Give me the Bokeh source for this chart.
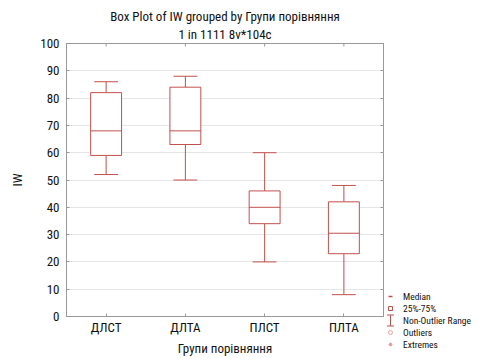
import math
from bokeh.plotting import figure
from bokeh.layouts import row
from bokeh.models import (FactorRange, Legend, LegendItem, LinearAxis,
                          FixedTicker, Title, ColumnDataSource)
from bokeh.transform import dodge
from bokeh.embed import file_html
from bokeh.resources import INLINE

groups = ["ДЛСТ", "ДЛТА", "ПЛСТ", "ПЛТА"]
whisker_low = [52, 50, 20, 8]
q1 = [59, 63, 34, 23]
median = [68, 68, 40, 30.5]
q3 = [82, 84, 46, 42]
whisker_high = [86, 88, 60, 48]
y_ticks = list(range(0, 101, 10))
legend_labels = ["Median", "25%-75%", "Non-Outlier Range", "Outliers", "Extremes"]

FONT = "Liberation Sans Narrow, Arial Narrow, Roboto Condensed, sans-serif"
RED = "#c0504d"
LIGHT = "#e3a3a3"
GRAY = "#999999"
TXT = "#111111"

src = ColumnDataSource(dict(g=groups, lo=whisker_low, q1=q1, med=median, q3=q3, hi=whisker_high))

p = figure(width=385, height=358, x_range=FactorRange(factors=groups, range_padding=0),
           y_range=(0, 100), output_backend="svg", toolbar_location=None,
           min_border_left=66, min_border_right=2, min_border_top=43, min_border_bottom=40)

p.add_layout(Title(text="1 in 1111 8v*104c", align="center", text_font=FONT,
                   text_font_size="13px", text_font_style="normal", text_color=TXT,
                   standoff=3), "above")
p.add_layout(Title(text="Box Plot of IW grouped by Групи порівняння", align="center",
                   text_font=FONT, text_font_size="13px", text_font_style="normal",
                   text_color=TXT, standoff=0), "above")

cap = 0.15
half = 0.195
# whiskers
p.segment(x0="g", y0="hi", x1="g", y1="q3", source=src, line_color=RED)
p.segment(x0="g", y0="lo", x1="g", y1="q1", source=src, line_color=RED)
p.segment(x0=dodge("g", -cap, range=p.x_range), y0="hi",
          x1=dodge("g", cap, range=p.x_range), y1="hi", source=src, line_color=RED)
p.segment(x0=dodge("g", -cap, range=p.x_range), y0="lo",
          x1=dodge("g", cap, range=p.x_range), y1="lo", source=src, line_color=RED)
# boxes
p.vbar(x="g", bottom="q1", top="q3", width=2 * half, source=src,
       fill_color="white", line_color=RED)
p.segment(x0=dodge("g", -half, range=p.x_range), y0="med",
          x1=dodge("g", half, range=p.x_range), y1="med", source=src, line_color=RED)

# top tick marks (frame edge, half clipped)
p.scatter(x=groups, y=[p.y_range.end] * len(groups), marker="dash", angle=math.pi / 2,
          size=6, line_color=GRAY)

# axes styling
p.yaxis.ticker = FixedTicker(ticks=y_ticks)
p.yaxis.axis_label = "IW"
p.xaxis.axis_label = "Групи порівняння"
for ax in (p.xaxis[0], p.yaxis[0]):
    ax.axis_line_color = GRAY
    ax.major_tick_line_color = GRAY
    ax.major_tick_in = 3
    ax.major_tick_out = 0
    ax.minor_tick_line_color = None
    ax.major_label_text_font = FONT
    ax.major_label_text_font_size = "13px"
    ax.major_label_text_color = TXT
    ax.axis_label_text_font = FONT
    ax.axis_label_text_font_size = "13px"
    ax.axis_label_text_font_style = "normal"
    ax.axis_label_text_color = TXT
p.yaxis.major_label_standoff = 7
p.xaxis.major_label_standoff = 3
p.yaxis.axis_label_standoff = 12
p.xaxis.axis_label_standoff = 3

p.xgrid.grid_line_color = None
p.ygrid.grid_line_color = "#e6e6e6"
p.ygrid.ticker = FixedTicker(ticks=y_ticks)
p.outline_line_color = GRAY

right = LinearAxis(major_label_overrides={t: "" for t in y_ticks}, axis_line_color=None,
                   major_tick_line_color=GRAY, major_tick_in=3, major_tick_out=0,
                   minor_tick_line_color=None, major_label_standoff=0,
                   ticker=FixedTicker(ticks=y_ticks))
p.add_layout(right, "right")

# legend figure (pixel-like ranges)
LW, LH = 93, 358
lf = figure(width=LW, height=LH, x_range=(0, LW), y_range=(0, LH), output_backend="svg",
            toolbar_location=None, min_border=0, outline_line_color=None,
            x_axis_location=None, y_axis_location=None)
for fig in (p, lf):
    if "frame_align" in fig.properties():
        fig.frame_align = False
lf.grid.visible = False

ROW_H, BOTTOM, GLYPH_W = 12, 8, 10
far = dict(x=[-50], y=[-50])
r_med = lf.scatter(**far, marker="dash", size=9, line_color=RED, line_width=1.5)
r_box = lf.scatter(**far, marker="square", size=9, line_color=RED, fill_color="white")
r_rng = lf.scatter(**far, marker="dash", size=1, line_alpha=0)
r_out = lf.scatter(**far, marker="circle", size=5, line_color=LIGHT, fill_color="white")
r_ext = lf.scatter(**far, marker="asterisk", size=5, line_color=LIGHT)
renderers = [r_med, r_box, r_rng, r_out, r_ext]
legend = Legend(items=[LegendItem(label=l, renderers=[r]) for l, r in zip(legend_labels, renderers)],
                location=(0, BOTTOM), padding=0, margin=0, spacing=0, border_line_alpha=0,
                background_fill_alpha=0, label_text_font=FONT, label_text_font_size="9.5px",
                label_text_color=TXT, glyph_width=GLYPH_W, glyph_height=ROW_H,
                label_height=ROW_H, label_standoff=8)
lf.add_layout(legend, "center")

# "I"-shaped whisker icon for the Non-Outlier Range legend row
rng_idx = legend_labels.index("Non-Outlier Range")
cy = BOTTOM + (len(legend_labels) - rng_idx - 0.5) * ROW_H
cx = GLYPH_W / 2
lf.scatter(x=[cx], y=[cy], marker="dash", angle=math.pi / 2, size=11, line_color=RED)
lf.scatter(x=[cx, cx], y=[cy - 5.5, cy + 5.5], marker="dash", size=7, line_color=RED)

open("out.html", "w").write(file_html(row(p, lf, spacing=0), INLINE))
